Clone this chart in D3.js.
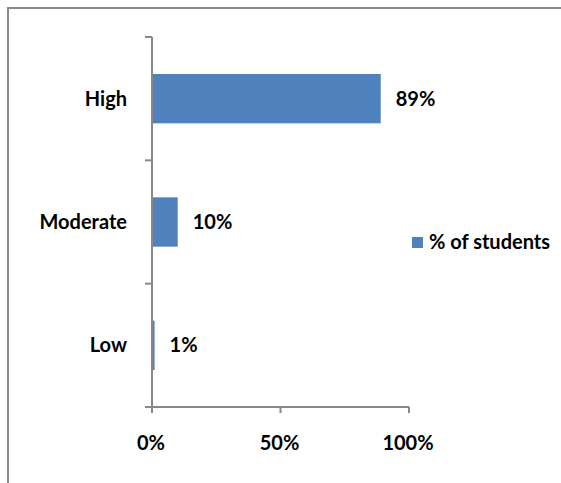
<!DOCTYPE html>
<html>
<head>
<meta charset="utf-8">
<script src="https://cdn.jsdelivr.net/npm/d3@7/dist/d3.min.js"></script>
<style>
  html, body { margin: 0; padding: 0; background: #fff; }
  svg { display: block; }
  text { font-family: Lato, "Open Sans", sans-serif; font-weight: bold; fill: #000; }
</style>
</head>
<body>
<svg id="chart" width="561" height="483"></svg>
<script>
const categories = ["High", "Moderate", "Low"];
const values = [89, 10, 1];
const seriesName = "% of students";
const xTicks = [0, 50, 100];

const svg = d3.select("#chart");
const axisColor = "#888888";
const barColor = "#4f81bd";
const fontSize = 20;

// outer frame
svg.append("rect")
  .attr("x", 8).attr("y", 8)
  .attr("width", 700).attr("height", 700)
  .attr("fill", "none").attr("stroke", "#8a8a8a").attr("stroke-width", 2);

const x = d3.scaleLinear().domain([0, 100]).range([152, 409]);
const y = d3.scaleBand().domain(categories).range([37, 407])
  .paddingInner(0.6).paddingOuter(0.3);

// bars
svg.selectAll("rect.bar").data(values).enter().append("rect")
  .attr("class", "bar")
  .attr("x", x(0))
  .attr("y", (d, i) => y(categories[i]))
  .attr("width", d => x(d) - x(0))
  .attr("height", y.bandwidth())
  .attr("fill", barColor);

// y axis line and ticks at band boundaries
const yAxis = svg.append("g");
yAxis.append("line")
  .attr("x1", x(0)).attr("x2", x(0))
  .attr("y1", 37).attr("y2", 407)
  .attr("stroke", axisColor).attr("stroke-width", 2);
const edges = d3.range(categories.length + 1).map(i => y.range()[0] + i * ((y.range()[1] - y.range()[0]) / categories.length));
yAxis.selectAll("line.tick").data(edges).enter().append("line")
  .attr("class", "tick")
  .attr("x1", x(0) - 7).attr("x2", x(0))
  .attr("y1", d => d).attr("y2", d => d)
  .attr("stroke", axisColor).attr("stroke-width", 2);

// category labels
svg.selectAll("text.cat").data(categories).enter().append("text")
  .attr("class", "cat")
  .attr("x", 127)
  .attr("y", d => y(d) + y.bandwidth() / 2 + 7)
  .attr("text-anchor", "end")
  .attr("font-size", fontSize)
  .text(d => d);

// x axis
const xAxis = svg.append("g");
xAxis.append("line")
  .attr("x1", x(0) - 7).attr("x2", x(100))
  .attr("y1", 407).attr("y2", 407)
  .attr("stroke", axisColor).attr("stroke-width", 2);
xAxis.selectAll("line.tick").data(xTicks).enter().append("line")
  .attr("class", "tick")
  .attr("x1", d => x(d)).attr("x2", d => x(d))
  .attr("y1", 407).attr("y2", 413)
  .attr("stroke", axisColor).attr("stroke-width", 2);
xAxis.selectAll("text").data(xTicks).enter().append("text")
  .attr("x", d => x(d) - 1)
  .attr("y", 450)
  .attr("text-anchor", "middle")
  .attr("font-size", fontSize)
  .text(d => d + "%");

// value labels
svg.selectAll("text.val").data(values).enter().append("text")
  .attr("class", "val")
  .attr("x", d => x(d) + 15)
  .attr("y", (d, i) => y(categories[i]) + y.bandwidth() / 2 + 7)
  .attr("font-size", fontSize)
  .text(d => d + "%");

// legend
const legend = svg.append("g");
legend.append("rect")
  .attr("x", 412).attr("y", 237).attr("width", 11).attr("height", 11)
  .attr("fill", barColor);
legend.append("text")
  .attr("x", 429).attr("y", 249)
  .attr("font-size", fontSize)
  .text(seriesName);
</script>
</body>
</html>
